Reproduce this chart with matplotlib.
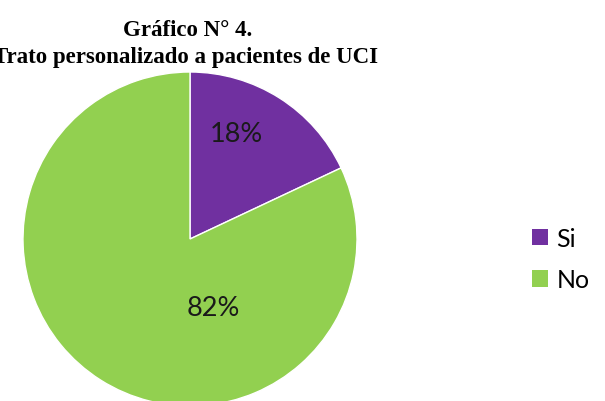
import matplotlib.pyplot as plt
from matplotlib.patches import Patch

labels = ['Si', 'No']
values = [18, 82]
colors = ['#7030A0', '#92D050']

fig = plt.figure(figsize=(6.05, 4.02), dpi=100)

# eje del pie, posicionado para que el circulo quede como en la imagen
ax = fig.add_axes([23 / 605, -5 / 402, 334 / 605, 334 / 402])
wedges, texts, autotexts = ax.pie(
    values, colors=colors, startangle=90, counterclock=False,
    autopct='%1.0f%%', pctdistance=0.68, radius=1.0,
    wedgeprops=dict(edgecolor='white', linewidth=1),
    textprops=dict(fontsize=19.5, family=['Lato', 'DejaVu Sans'], color='#1a1a1a'))
ax.set_xlim(-1, 1)
ax.set_ylim(-1, 1)
ax.set_aspect('equal')

# Excel coloca las etiquetas un poco distinto
autotexts[0].set_position((0.28, 0.63))
autotexts[1].set_position((0.14, -0.41))

fig.text(188 / 605, 1 - 36 / 402, 'Gráfico N° 4.', ha='center', va='baseline',
         fontsize=16.5, fontweight='bold', family='Liberation Serif')
fig.text(186 / 605, 1 - 63 / 402, 'Trato personalizado a pacientes de UCI',
         ha='center', va='baseline', fontsize=16.5, fontweight='bold',
         family='Liberation Serif')

handles = [Patch(facecolor=c, edgecolor='none') for c in colors]
fig.legend(handles, labels, loc='center left', bbox_to_anchor=(509 / 605, 1 - 260 / 402),
           frameon=False, prop=dict(family=['Lato', 'DejaVu Sans'], size=18),
           handlelength=0.65, handleheight=0.65, handletextpad=0.35, labelspacing=0.75)

fig.savefig('out.png', dpi=100)
